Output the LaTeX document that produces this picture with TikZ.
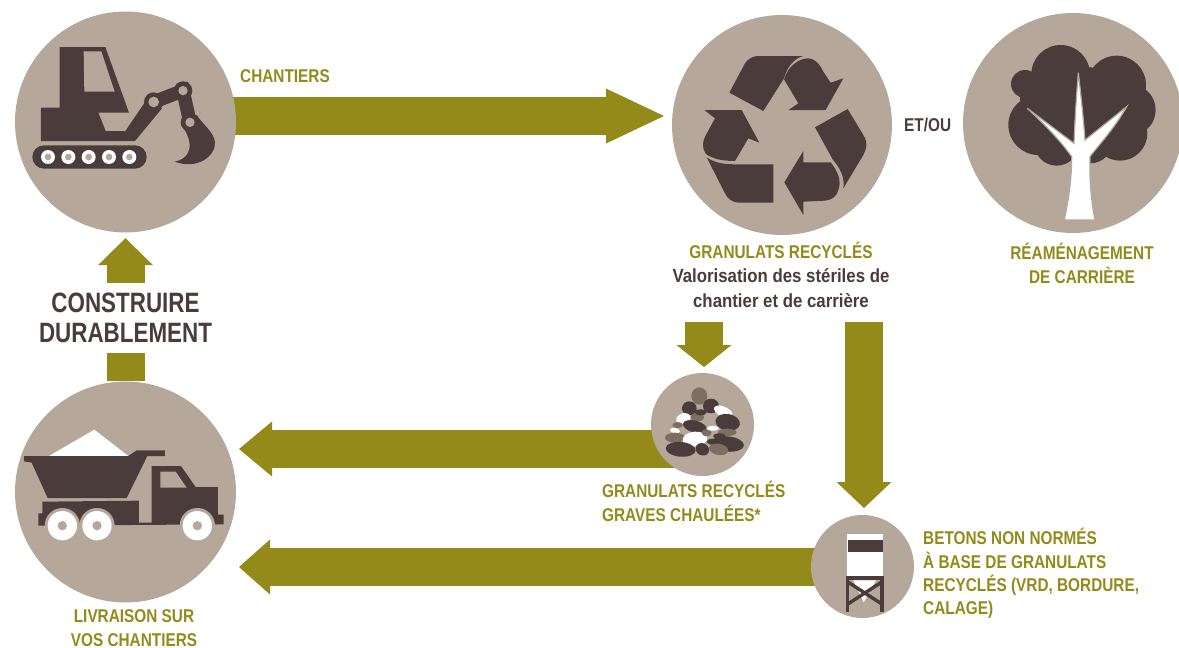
\documentclass[tikz,border=0pt]{standalone}
\usepackage{fontspec}
\usetikzlibrary{arrows.meta,backgrounds}
\newfontfamily\cond[FakeStretch=0.8]{Liberation Sans}
\newfontfamily\condb[FakeStretch=0.83]{Liberation Sans}
\newfontfamily\condc[FakeStretch=0.885]{Liberation Sans}
\definecolor{olive}{HTML}{938A1A}
\definecolor{beige}{HTML}{B5A89A}
\definecolor{dark}{HTML}{4A3C3B}
\definecolor{mid}{HTML}{7D6E62}
\tikzset{
 disc/.style={circle,fill=beige,inner sep=0pt,minimum size=#1},
 fat/.style={draw=olive,line width=38pt,-{Triangle[length=#1,width=55pt,line width=0pt]}},
 lab/.style={text=olive,font=\condb\bfseries\fontsize{18.5}{23.3}\selectfont,inner sep=0pt},
 labd/.style={text=dark,font=\condc\bfseries\fontsize{19}{25}\selectfont,inner sep=0pt},
 big/.style={text=dark,font=\cond\bfseries\fontsize{28}{30}\selectfont,inner sep=0pt},
 ic/.style={fill=dark},
 icb/.style={fill=beige},
 icw/.style={fill=white},
 zoomed/.style={shift={#1},x=.33333pt,y=-.33333pt},
}
\begin{document}
\begin{tikzpicture}[x=1pt,y=-1pt]
\useasboundingbox (0,0) rectangle (1179,648);
\clip (0,0) rectangle (1179,648);
% discs
\node[disc=221pt] (exc) at (125.5,122) {};
\node[disc=220pt] (rec) at (782,125) {};
\node[disc=220pt] (tree) at (1073,123) {};
\node[disc=221pt] (truck) at (125.5,492) {};
\node[disc=103pt] (stones) at (702.5,424.5) {};
\node[disc=103pt] (tower) at (862.5,566.5) {};
\coordinate (midS) at (680,449);
\coordinate (midT) at (239,449);
\coordinate (lowS) at (830,567);
\coordinate (lowT) at (239,567);
\coordinate (dsA) at (704,322);
\coordinate (dsB) at (704,367);
\coordinate (dlA) at (864,322);
\coordinate (dlB) at (864,508);
\coordinate (topA) at (230,116);
\coordinate (topB) at (664,116);
\begin{pgfonlayer}{background}
\draw[fat=58pt] (topA) -- (topB);
\draw[fat=33pt] (midS) -- (midT);
\draw[fat=31pt] (lowS) -- (lowT);
\draw[fat=22pt] (dsA) -- (dsB);
\draw[fat=26pt] (dlA) -- (dlB);
\draw[fat=27pt,shorten >=5.5pt] (truck.north) -- (exc.south);
\end{pgfonlayer}
% excavator
\begin{scope}[zoomed={(0,0)}]
\fill[ic,rounded corners=11.6pt] (97,436) rectangle (440,506);
\foreach \p in {144,205,266,327,388}{\fill[icw] (\p,471) circle[radius=21];\fill[icb] (\p,471) circle[radius=10];}
\fill[ic] (123,323) -- (179,323) -- (179,141) -- (316,141) -- (387,338) -- (295,338) -- (317,393) -- (376,393) -- (436,305) -- (486,325) -- (405,423) -- (123,423) -- cycle;
\fill[icb] (251,154) -- (304,154) -- (344,275) -- (253,275) -- cycle;
\draw[dark,line width=13.5pt] (461,306) -- (549,272) -- (570,367);
\fill[ic] (461,306) circle[radius=29];
\fill[ic] (549,272) circle[radius=28];
\fill[ic] (570,367) circle[radius=28];
\fill[ic] (590,345) .. controls (610,375) and (640,395) .. (645,425) .. controls (648,470) and (590,510) .. (524,485) .. controls (565,478) and (590,440) .. (545,375) -- cycle;
\fill[icb] (461,306) circle[radius=16];
\fill[icb] (549,272) circle[radius=14];
\fill[icb] (570,367) circle[radius=14];
\end{scope}
% recycle
\begin{scope}[zoomed={(660,0)}]
\fill[ic] (208,278) -- (255,190) .. controls (265,175) and (280,168) .. (295,168) -- (430,168) .. controls (400,175) and (380,205) .. (372,235) -- (310,333) -- cycle;
\fill[ic] (372,238) .. controls (385,195) and (420,175) .. (445,175) .. controls (470,178) and (480,195) .. (490,215) -- (512,248) -- (550,235) -- (497,330) -- (386,330) -- (415,310) -- cycle;
\fill[ic] (465,382) -- (563,327) -- (610,405) .. controls (625,430) and (620,445) .. (610,465) -- (550,565) .. controls (555,530) and (540,505) .. (518,478) -- cycle;
\fill[ic] (430,453) -- (430,487) -- (512,487) .. controls (535,515) and (545,545) .. (535,570) .. controls (530,590) and (515,600) .. (495,602) -- (430,605) -- (430,645) -- (373,547) -- cycle;
\fill[ic] (140,472) .. controls (165,490) and (195,493) .. (230,493) -- (340,493) -- (340,608) -- (240,608) .. controls (215,608) and (203,595) .. (195,580) -- cycle;
\fill[ic] (133,330) -- (245,330) -- (298,428) -- (265,415) -- (225,483) .. controls (190,483) and (160,478) .. (138,462) .. controls (125,445) and (128,425) .. (135,410) -- (165,355) -- cycle;
\end{scope}
% tree
\begin{scope}[zoomed={(950,0)}]
\foreach \a/\b/\r in {332/223/88,500/255/88,540/330/77,510/400/82,265/375/90,225/252/42,320/430/67,400/330/130,300/290/90,420/420/70}{\fill[ic] (\a,\b) circle[radius=\r];}
\fill[white,draw=beige,line width=1.2pt] (385,218) .. controls (392,280) and (400,350) .. (405,420) -- (530,320) .. controls (490,390) and (450,430) .. (420,470) .. controls (418,550) and (425,610) .. (435,660) -- (343,660) .. controls (355,600) and (365,540) .. (365,470) .. controls (330,420) and (280,370) .. (232,325) -- (372,430) .. controls (375,350) and (380,280) .. (385,218) -- cycle;
\end{scope}
% truck
\begin{scope}[zoomed={(0,380)}]
\fill[icw] (147,228) -- (283,149) -- (385,228) -- cycle;
\fill[ic] (72,228) -- (385,228) -- (410,211) -- (495,211) -- (495,228) -- (442,228) -- (380,354) -- (143,354) -- (95,248) -- (72,244) -- cycle;
\fill[ic] (127,365) -- (417,362) -- (417,428) -- (455,428) -- (455,258) -- (543,258) -- (587,321) -- (654,321) -- (654,404) -- (671,404) -- (671,433) -- (115,437) -- (115,400) -- (127,400) -- cycle;
\fill[icb] (481,275) -- (527,275) -- (560,323) -- (481,323) -- cycle;
\foreach \p in {187,291,592}{\fill[icb] (\p,437) circle[radius=53];\fill[icw] (\p,437) circle[radius=44];\fill[icb] (\p,437) circle[radius=14];}
\end{scope}
% stones
\begin{scope}[zoomed={(640,370)}]
\foreach \a/\b/\c/\d/\e/\k in {178/78/24/26/0/mid,148/115/22/21/0/dark,213/108/24/22/0/dark,172/142/20/12/0/mid,182/127/18/9/0/dark,130/146/22/16/20/white,250/125/30/15/-25/white,263/157/37/25/-10/dark,165/170/37/18/-15/dark,113/165/16/9/0/mid,105/182/15/8/-10/white,105/203/30/15/0/mid,165/207/37/22/5/white,200/188/15/11/0/mid,218/175/19/7/0/white,262/187/28/11/0/mid,238/198/19/8/0/dark,218/215/18/9/0/dark,262/222/50/23/-5/dark,122/238/45/22/-5/dark,187/238/21/18/-30/dark,236/238/29/17/-10/mid}{\fill[\k,rotate around={\e:(\a,\b)}] (\a,\b) ellipse[x radius=\c,y radius=\d];}
\end{scope}
% tower
\begin{scope}[zoomed={(800,505)}]
\fill[icw] (141,86) rectangle (248,215);
\fill[ic] (143,104) rectangle (250,142);
\fill[icw] (160,226) -- (228,226) -- (191,292) -- cycle;
\draw[dark,line width=3.4pt] (142,230) -- (247,298) (247,230) -- (142,298);
\fill[ic] (137,214) rectangle (253,226);
\fill[ic] (137,214) rectangle (148,320);
\fill[ic] (241,214) rectangle (253,320);
\end{scope}
% labels
\node[lab,anchor=west] (t1) at (240,76) {CHANTIERS};
\node[lab,text=dark,anchor=west] (t2) at (904,125) {ET/OU};
\node[lab,anchor=center] (t3) at (781,250.5) {GRANULATS RECYCLÉS};
\node[labd,align=center] (t4) at (781,288.5) {Valorisation des stériles de\\chantier et de carrière};
\node[lab,align=center] (t5) at (1082,263.5) {RÉAMÉNAGEMENT\\DE CARRIÈRE};
\node[big,align=center,fill=white,minimum width=180pt,minimum height=70pt] (t6) at (125.5,318) {CONSTRUIRE\\DURABLEMENT};
\node[lab,align=left,anchor=west] (t7) at (602,501.5) {GRANULATS RECYCLÉS\\GRAVES CHAULÉES*};
\node[lab,align=left,anchor=west] (t8) at (923,573.5) {BETONS NON NORMÉS\\À BASE DE GRANULATS\\RECYCLÉS (VRD, BORDURE,\\CALAGE)};
\node[lab,align=center] (t9) at (134,628) {LIVRAISON SUR\\VOS CHANTIERS};
\end{tikzpicture}
\end{document}
